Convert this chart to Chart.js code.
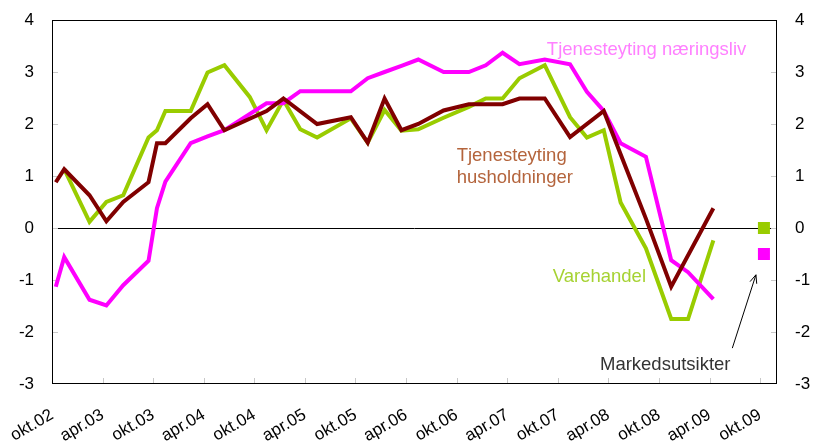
<!DOCTYPE html>
<html>
<head>
<meta charset="utf-8">
<script src="https://cdn.jsdelivr.net/npm/chart.js@4"></script>
<style>
html,body{margin:0;padding:0;background:#fff}
</style>
</head>
<body>
<canvas id="c" width="814" height="441"></canvas>
<script>
// tick labels on the x axis, one every 6 months from okt.02
const tickLabels = ['okt.02','apr.03','okt.03','apr.04','okt.04','apr.05','okt.05','apr.06','okt.06','apr.07','okt.07','apr.08','okt.08','apr.09','okt.09'];
const tickMonths = tickLabels.map((_, i) => i * 6);

// months counted from okt.02
const husMonths  = [0,1,4,6,8,11,12,13,16,18,20,25,27,31,35,37,39,41,43,46,49,53,55,58,61,65,67,70,73,78];
const husValues  = [0.88,1.13,0.63,0.13,0.5,0.88,1.63,1.63,2.11,2.38,1.88,2.25,2.49,2.0,2.13,1.64,2.49,1.88,2.0,2.26,2.38,2.38,2.49,2.49,1.75,2.25,1.42,0.18,-1.13,0.38];

const naerMonths = [0,1,4,6,8,11,12,13,16,18,20,25,27,29,35,37,39,41,43,46,49,51,53,55,58,61,63,65,67,70,73,75,78];
const naerValues = [-1.13,-0.56,-1.38,-1.49,-1.1,-0.63,0.38,0.89,1.63,1.76,1.88,2.4,2.4,2.63,2.63,2.88,3.0,3.12,3.24,3.0,3.0,3.13,3.37,3.15,3.24,3.15,2.62,2.25,1.63,1.37,-0.62,-0.85,-1.37];

const vareMonths = [1,4,6,8,11,12,13,16,18,20,23,25,27,29,31,35,37,39,41,43,46,49,51,53,55,58,61,63,65,67,70,73,75,78];
const vareValues = [1.13,0.12,0.5,0.63,1.74,1.88,2.25,2.25,2.99,3.13,2.52,1.88,2.46,1.9,1.74,2.11,1.64,2.27,1.87,1.9,2.12,2.33,2.49,2.49,2.88,3.13,2.13,1.74,1.88,0.49,-0.39,-1.75,-1.75,-0.24];

// Markedsutsikter (vare, næringsliv)
const outMonths = [84, 84];
const outValues = [0.0, -0.5];

const GREEN = '#99cc00', PINK = '#ff00ff', BROWN = '#800000';
const FONT = '"Liberation Sans", Arial, sans-serif';
const MID = 0.45; // observations sit mid-month

const pts = (ms, vs) => ms.map((m, i) => ({ x: m + MID, y: vs[i] }));

const notes = [
  { text: 'Tjenesteyting næringsliv', x: 58.7, y: 3.33, color: '#ff80ff' },
  { text: 'Tjenesteyting', x: 48.0, y: 1.29, color: '#b4643c' },
  { text: 'husholdninger', x: 48.0, y: 0.87, color: '#b4643c' },
  { text: 'Varehandel', x: 59.4, y: -1.03, color: '#a6d232' },
  { text: 'Markedsutsikter', x: 65.0, y: -2.74, color: '#333333' }
];
const arrow = { from: [80.7, -2.31], to: [83.5, -0.9] };

function seg(ctx, x1, y1, x2, y2) {
  ctx.beginPath(); ctx.moveTo(x1, y1); ctx.lineTo(x2, y2); ctx.stroke();
}

const decor = {
  id: 'decor',
  beforeDatasetsDraw(chart) {
    const { ctx, chartArea: a, scales: { x, y } } = chart;
    ctx.save();
    ctx.strokeStyle = '#c8c8c8';
    ctx.lineWidth = 1;
    y.ticks.forEach(t => {
      if (t.value <= -3 || t.value >= 4) return;
      const py = Math.round(y.getPixelForValue(t.value)) + 0.5;
      seg(ctx, a.left, py, a.left + 6, py);
      seg(ctx, a.right - 6, py, a.right, py);
    });
    x.ticks.forEach(t => {
      if (t.value === 0) return;
      const px = Math.round(x.getPixelForValue(t.value)) + 0.5;
      seg(ctx, px, a.bottom - 6, px, a.bottom);
    });
    ctx.strokeStyle = '#000';
    ctx.strokeRect(a.left + 0.5, a.top + 0.5, a.width - 1, a.height - 1);
    ctx.restore();
  },
  afterDatasetsDraw(chart) {
    const { ctx, scales: { x, y } } = chart;
    ctx.save();
    ctx.font = '18.5px ' + FONT;
    ctx.textAlign = 'left';
    ctx.textBaseline = 'alphabetic';
    notes.forEach(n => {
      ctx.fillStyle = n.color;
      ctx.fillText(n.text, x.getPixelForValue(n.x), y.getPixelForValue(n.y));
    });
    const x1 = x.getPixelForValue(arrow.from[0]), y1 = y.getPixelForValue(arrow.from[1]);
    const x2 = x.getPixelForValue(arrow.to[0]), y2 = y.getPixelForValue(arrow.to[1]);
    ctx.strokeStyle = '#000';
    ctx.lineWidth = 1;
    seg(ctx, x1, y1, x2, y2);
    const ang = Math.atan2(y2 - y1, x2 - x1);
    [-0.4, 0.4].forEach(d => {
      seg(ctx, x2, y2, x2 - 9 * Math.cos(ang + d), y2 - 9 * Math.sin(ang + d));
    });
    ctx.restore();
  }
};

const line = (data, color) => ({
  data, borderColor: color, backgroundColor: color, borderWidth: 4,
  pointRadius: 0, tension: 0, fill: false, borderJoinStyle: 'miter'
});

const noPad = s => { s.paddingLeft = 0; s.paddingRight = 0; s.paddingTop = 0; s.paddingBottom = 0; };

new Chart(document.getElementById('c'), {
  type: 'line',
  data: {
    datasets: [
      {
        data: pts(outMonths, outValues), showLine: false, pointStyle: 'rect',
        pointRadius: 8.5, pointHoverRadius: 8.5, borderWidth: 0,
        pointBackgroundColor: [GREEN, PINK], pointBorderColor: [GREEN, PINK]
      },
      line(pts(husMonths, husValues), BROWN),
      line(pts(naerMonths, naerValues), PINK),
      line(pts(vareMonths, vareValues), GREEN)
    ]
  },
  options: {
    responsive: false,
    animation: false,
    devicePixelRatio: 1,
    layout: { padding: { top: 20, left: 0, right: 0, bottom: 0 } },
    plugins: { legend: { display: false }, tooltip: { enabled: false } },
    scales: {
      x: {
        type: 'linear', min: 0, max: 86,
        afterBuildTicks: s => { s.ticks = tickMonths.map(v => ({ value: v })); },
        afterFit: s => { s.height = 57; noPad(s); },
        grid: { display: false, drawTicks: false },
        border: { display: false },
        ticks: {
          autoSkip: false, maxRotation: 30, minRotation: 30, padding: 21,
          color: '#000', font: { size: 17, family: FONT },
          callback: v => tickLabels[tickMonths.indexOf(v)] ?? ''
        }
      },
      y: {
        position: 'left', min: -3, max: 4,
        afterFit: s => { s.width = 52; noPad(s); },
        grid: {
          drawTicks: false, lineWidth: 1,
          color: c => (c.tick && c.tick.value === 0) ? '#000' : 'rgba(0,0,0,0)'
        },
        border: { display: false },
        ticks: { stepSize: 1, padding: 18, color: '#000', font: { size: 17, family: FONT } }
      },
      y2: {
        position: 'right', min: -3, max: 4,
        afterFit: s => { s.width = 37; noPad(s); },
        grid: { display: false, drawTicks: false },
        border: { display: false },
        ticks: { stepSize: 1, padding: 18, color: '#000', font: { size: 17, family: FONT } }
      }
    }
  },
  plugins: [decor]
});
</script>
</body>
</html>
